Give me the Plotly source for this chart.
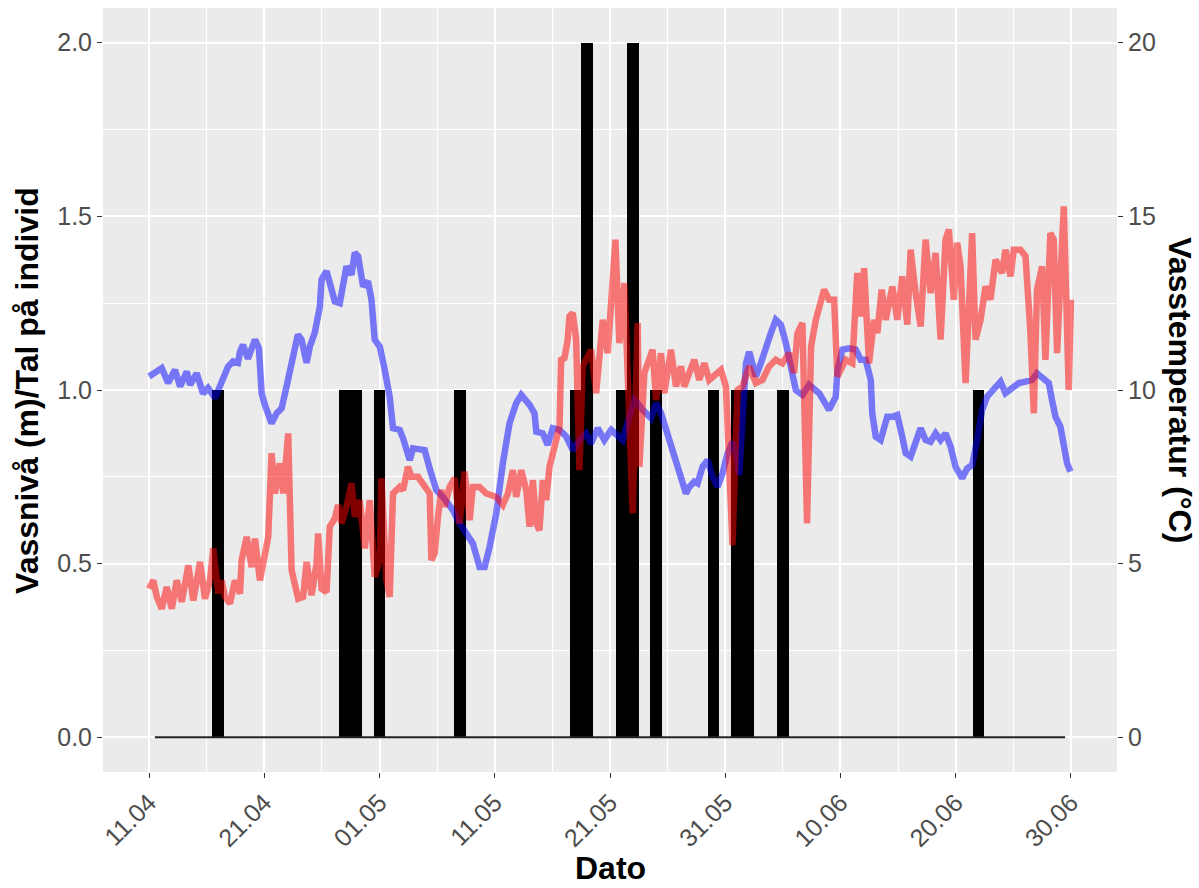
import plotly.graph_objects as go
import pandas as pd

BASE = pd.Timestamp("2019-04-11")

# Water level (m), day offset from 11.04
level_day = [0.0, 1.10, 1.65, 2.25, 2.69, 3.27, 3.55, 4.13, 4.68, 5.11, 5.72, 6.15, 6.30, 6.85, 7.28,
             7.71, 7.89, 8.15, 8.58, 9.19, 9.53, 9.77, 10.05, 10.63, 11.07, 11.50, 11.93, 12.37, 12.91,
             13.23, 13.67, 13.95, 14.38, 14.82, 14.97, 15.40, 15.83, 16.12, 16.55, 16.84, 17.13, 17.57,
             17.85, 18.14, 18.57, 19.00, 19.30, 19.58, 20.02, 20.45, 20.88, 21.17, 21.75, 22.04, 22.62,
             22.91, 23.48, 23.92, 24.35, 24.93, 25.50, 26.37, 26.95, 27.53, 28.10, 28.68, 29.12, 29.55,
             30.13, 30.70, 31.28, 31.86, 32.30, 33.02, 33.45, 33.60, 34.17, 34.60, 35.03, 35.62, 36.20,
             36.77, 37.35, 37.93, 38.36, 38.93, 39.51, 40.10, 40.67, 41.10, 41.68, 42.11, 42.40, 42.83,
             43.56, 44.00, 44.43, 45.00, 45.73, 46.16, 46.59, 46.88, 47.31, 47.60, 48.03, 48.47, 48.90,
             49.33, 49.77, 50.20, 50.63, 51.07, 51.21, 51.50, 51.65, 51.80, 52.08, 52.66, 53.09, 53.53,
             53.96, 54.39, 54.83, 55.26, 55.69, 55.98, 56.13, 56.70, 57.28, 58.15, 59.01, 59.59, 59.75,
             60.16, 60.74, 61.33, 61.76, 62.19, 62.63, 62.76, 63.06, 63.49, 64.06, 64.50, 64.93, 65.36,
             65.66, 66.09, 66.52, 66.96, 67.39, 67.82, 68.26, 68.69, 69.12, 69.56, 69.99, 70.56, 70.99,
             71.43, 71.86, 72.30, 72.73, 73.31, 73.89, 74.32, 74.90, 75.48, 76.06, 76.63, 77.06, 77.50,
             78.08, 78.36, 78.66, 79.09, 79.38, 79.67, 79.96]
level_m = [1.039, 1.063, 1.02, 1.058, 1.01, 1.053, 1.015, 1.048, 0.99, 1.006, 0.977, 1.01, 1.024, 1.067,
           1.082, 1.078, 1.11, 1.13, 1.09, 1.145, 1.12, 0.99, 0.957, 0.904, 0.933, 0.947, 1.01, 1.077,
           1.159, 1.145, 1.078, 1.125, 1.165, 1.24, 1.318, 1.342, 1.289, 1.255, 1.25, 1.318, 1.356,
           1.332, 1.395, 1.385, 1.298, 1.313, 1.26, 1.145, 1.125, 1.058, 0.98, 0.89, 0.885, 0.861,
           0.798, 0.832, 0.827, 0.827, 0.774, 0.712, 0.692, 0.654, 0.616, 0.587, 0.558, 0.49, 0.49,
           0.548, 0.645, 0.789, 0.904, 0.962, 0.986, 0.957, 0.933, 0.88, 0.875, 0.842, 0.89, 0.885,
           0.866, 0.827, 0.856, 0.875, 0.846, 0.89, 0.856, 0.885, 0.866, 0.856, 0.923, 0.971, 0.962,
           0.943, 0.919, 0.962, 0.933, 0.875, 0.803, 0.75, 0.702, 0.721, 0.736, 0.731, 0.779, 0.798,
           0.75, 0.721, 0.76, 0.818, 0.851, 0.798, 0.755, 0.914, 1.03, 1.077, 1.11, 1.039, 1.077,
           1.125, 1.164, 1.202, 1.188, 1.135, 1.068, 1.029, 1.0, 0.986, 1.015, 0.991, 0.943, 0.98,
           1.058, 1.116, 1.12, 1.116, 1.087, 1.087, 1.029, 0.933, 0.866, 0.856, 0.923, 0.923, 0.928,
           0.866, 0.818, 0.808, 0.846, 0.89, 0.856, 0.851, 0.875, 0.856, 0.875, 0.837, 0.779, 0.746,
           0.774, 0.784, 0.856, 0.943, 0.981, 1.005, 1.024, 0.991, 1.005, 1.02, 1.024, 1.029, 1.048,
           1.034, 1.02, 0.971, 0.923, 0.894, 0.827, 0.789, 0.765]

# Water temperature (deg C), day offset from 11.04
temp_day = [0.0, 0.37, 0.67, 1.10, 1.53, 1.97, 2.40, 2.83, 3.41, 3.84, 4.42, 4.85, 5.29, 5.57, 6.01,
            6.30, 6.59, 7.02, 7.45, 7.89, 8.03, 8.47, 8.90, 9.19, 9.62, 9.90, 10.34, 10.63, 10.92,
            11.35, 11.64, 12.07, 12.37, 12.94, 13.37, 13.67, 14.10, 14.53, 14.67, 14.97, 15.40, 15.68,
            16.12, 16.40, 16.70, 17.13, 17.57, 17.85, 18.28, 18.72, 19.15, 19.58, 20.02, 20.16, 20.60,
            20.88, 21.17, 21.75, 22.04, 22.47, 22.77, 23.34, 23.92, 24.35, 24.50, 24.78, 25.07, 25.36,
            25.65, 26.08, 26.52, 26.95, 27.38, 27.82, 28.10, 28.68, 29.26, 29.70, 30.13, 30.70, 31.14,
            31.57, 31.86, 32.30, 32.73, 33.02, 33.30, 33.60, 33.88, 34.17, 34.46, 34.75, 35.03, 35.33,
            35.62, 35.76, 36.05, 36.33, 36.48, 36.77, 37.06, 37.35, 37.63, 38.36, 38.80, 39.37, 39.80,
            40.10, 40.47, 40.81, 41.25, 41.97, 42.40, 42.55, 42.98, 43.70, 44.00, 44.43, 44.71, 45.29,
            45.73, 46.16, 46.45, 46.88, 47.31, 47.75, 48.18, 48.61, 49.19, 49.63, 50.06, 50.63, 51.07,
            51.50, 52.08, 52.66, 53.23, 53.81, 54.39, 54.96, 55.55, 55.98, 56.27, 56.70, 57.10, 57.45,
            57.86, 58.58, 59.01, 59.45, 59.73, 60.46, 61.03, 61.46, 61.76, 62.05, 62.48, 62.91, 63.20,
            63.58, 63.93, 64.50, 64.93, 65.36, 65.80, 66.09, 66.52, 66.96, 67.39, 67.82, 68.26, 68.69,
            69.12, 69.41, 69.84, 70.13, 70.42, 70.86, 71.43, 71.72, 72.16, 72.59, 73.02, 73.46, 74.03,
            74.32, 74.76, 75.04, 75.62, 76.06, 76.49, 76.78, 77.06, 77.50, 77.79, 78.22, 78.51, 78.80,
            79.38, 79.81, 80.0]
temp_c = [4.28, 4.52, 4.04, 3.70, 4.33, 3.70, 4.52, 3.90, 4.95, 3.94, 5.05, 3.99, 4.52, 5.44, 4.14,
          4.52, 4.04, 3.85, 4.52, 4.14, 5.10, 5.77, 4.90, 5.72, 4.52, 5.10, 5.77, 8.18, 7.02,
          7.89, 7.02, 8.75, 4.81, 3.99, 4.04, 5.05, 4.09, 5.00, 5.87, 4.28, 4.18, 6.06,
          6.30, 6.69, 6.16, 6.64, 7.31, 6.35, 6.83, 5.44, 6.83, 4.62, 5.10, 7.46, 4.52,
          4.04, 7.02, 7.21, 7.12, 7.79, 7.50, 7.50, 7.21, 7.02, 5.10, 5.29, 6.35, 7.12,
          6.64, 7.21, 7.46, 6.16, 7.65, 6.25, 7.21, 7.21, 7.02, 6.97, 6.92, 6.69, 7.02,
          7.69, 6.92, 7.69, 7.12, 6.06, 7.41, 6.16, 5.96, 7.41, 6.83, 7.79, 8.27, 8.56,
          8.94, 10.87, 10.92, 11.45, 12.12, 12.22, 11.45, 7.69, 10.68, 11.16, 9.91, 12.02, 11.06,
          12.89, 14.33, 11.35, 13.08, 6.45, 11.93, 7.79, 10.49, 11.16, 9.71, 11.06, 9.91, 11.16,
          10.10, 10.68, 10.10, 10.49, 10.87, 10.29, 10.77, 10.29, 10.49, 10.58, 10.10, 5.53, 10.00,
          10.10, 10.68, 10.20, 10.29, 10.68, 10.87, 10.77, 11.06, 10.49, 11.64, 11.93, 6.16, 11.25,
          12.02, 12.89, 12.60, 12.60, 10.39, 10.87, 10.77, 13.37, 12.12, 13.51, 10.77, 12.02, 11.64,
          12.89, 12.02, 12.98, 12.02, 13.27, 11.88, 14.04, 12.79, 11.83, 14.33, 12.79, 13.95, 11.45,
          14.33, 14.62, 12.60, 14.24, 13.56, 10.20, 14.52, 11.45, 12.02, 12.98, 12.60, 13.75, 13.37,
          14.04, 13.27, 14.04, 14.04, 13.85, 11.64, 9.33, 12.89, 13.56, 10.87, 14.52, 14.33, 11.06,
          15.29, 10.00, 12.60]

# Number of individuals per day (12.04 - 29.06)
count_dates = pd.date_range("2019-04-12", "2019-06-29", freq="D")
fish_count = [0, 0, 0, 0, 0, 1, 0, 0, 0, 0,
              0, 0, 0, 0, 0, 0, 1, 1, 0, 1,
              0, 0, 0, 0, 0, 0, 1, 0, 0, 0,
              0, 0, 0, 0, 0, 0, 1, 2, 0, 0,
              1, 2, 0, 1, 0, 0, 0, 0, 1, 0,
              1, 1, 0, 0, 1, 0, 0, 0, 0, 0,
              0, 0, 0, 0, 0, 0, 0, 0, 0, 0,
              0, 1, 0, 0, 0, 0, 0, 0, 0]

tick_days = [0, 10, 20, 30, 40, 50, 60, 70, 80]
tick_labels = ["11.04", "21.04", "01.05", "11.05", "21.05", "31.05", "10.06", "20.06", "30.06"]
minor_days = [5, 15, 25, 35, 45, 55, 65, 75]
left_ticks = [0, 0.5, 1.0, 1.5, 2.0]
left_labels = ["0.0", "0.5", "1.0", "1.5", "2.0"]
right_ticks = [0, 5, 10, 15, 20]


def to_date(days):
    return BASE + pd.to_timedelta(pd.Series(days, dtype=float), unit="D")


FONT = "Liberation Sans, Arial, sans-serif"
TICKCOL = "#4D4D4D"
DAY_MS = 86400000
TICKSIZE = 25
TITLESIZE = 32

fig = go.Figure()
fig.add_trace(go.Bar(x=count_dates, y=fish_count, marker_color="black",
                     marker_line_width=0, width=DAY_MS * 1.0, yaxis="y"))
fig.add_trace(go.Scatter(
    x=[count_dates[0] - pd.Timedelta(hours=12), count_dates[-1] + pd.Timedelta(hours=12)],
    y=[0, 0], mode="lines", line=dict(color="#222222", width=2), yaxis="y"))
fig.add_trace(go.Scatter(x=to_date(level_day), y=level_m, mode="lines",
                         line=dict(color="rgba(0,0,255,0.5)", width=6.5), yaxis="y"))
fig.add_trace(go.Scatter(x=to_date(temp_day), y=temp_c, mode="lines",
                         line=dict(color="rgba(255,0,0,0.5)", width=6.5), yaxis="y2"))

fig.update_layout(
    width=1199, height=888,
    margin=dict(l=103, r=82, t=8, b=116),
    paper_bgcolor="white", plot_bgcolor="#EBEBEB",
    showlegend=False, bargap=0,
    font=dict(family=FONT),
    xaxis=dict(
        type="date",
        range=[to_date([-4])[0], to_date([84])[0]],
        tickmode="array", tickvals=list(to_date(tick_days)), ticktext=tick_labels,
        tickangle=-45, tickfont=dict(size=TICKSIZE, color=TICKCOL, family=FONT),
        ticks="outside", ticklen=5, tickwidth=1, tickcolor="#333333",
        showgrid=True, gridcolor="white", gridwidth=2,
        minor=dict(tickmode="array", tickvals=list(to_date(minor_days)), showgrid=True,
                   gridcolor="white", gridwidth=1, ticks=""),
        zeroline=False, showline=False, automargin=False,
    ),
    yaxis=dict(
        range=[-0.1, 2.1],
        tickmode="array", tickvals=left_ticks, ticktext=left_labels,
        tickfont=dict(size=TICKSIZE, color=TICKCOL, family=FONT),
        ticks="outside", ticklen=5, tickwidth=1, tickcolor="#333333",
        showgrid=True, gridcolor="white", gridwidth=2,
        minor=dict(tickmode="array", tickvals=[0.25, 0.75, 1.25, 1.75], showgrid=True,
                   gridcolor="white", gridwidth=1, ticks=""),
        zeroline=False, showline=False, automargin=False,
    ),
    yaxis2=dict(
        overlaying="y", side="right",
        range=[-1, 21],
        tickmode="array", tickvals=right_ticks,
        tickfont=dict(size=TICKSIZE, color=TICKCOL, family=FONT),
        ticks="outside", ticklen=5, tickwidth=1, tickcolor="#333333",
        showgrid=False, zeroline=False, showline=False, automargin=False,
    ),
    annotations=[
        dict(text="<b>Vassnivå (m)/Tal på individ</b>", xref="paper", yref="paper",
             x=-0.075, y=0.5, xanchor="center", yanchor="middle", textangle=-90,
             showarrow=False, font=dict(size=TITLESIZE, color="black", family=FONT)),
        dict(text="<b>Vasstemperatur (°C)</b>", xref="paper", yref="paper",
             x=1.062, y=0.5, xanchor="center", yanchor="middle", textangle=90,
             showarrow=False, font=dict(size=TITLESIZE, color="black", family=FONT)),
        dict(text="<b>Dato</b>", xref="paper", yref="paper",
             x=0.5, y=-0.126, xanchor="center", yanchor="middle",
             showarrow=False, font=dict(size=TITLESIZE, color="black", family=FONT)),
    ],
)

fig.write_html("out.html", config={"displayModeBar": False},
               post_script="document.body.style.margin='0';document.body.style.overflow='hidden';")
